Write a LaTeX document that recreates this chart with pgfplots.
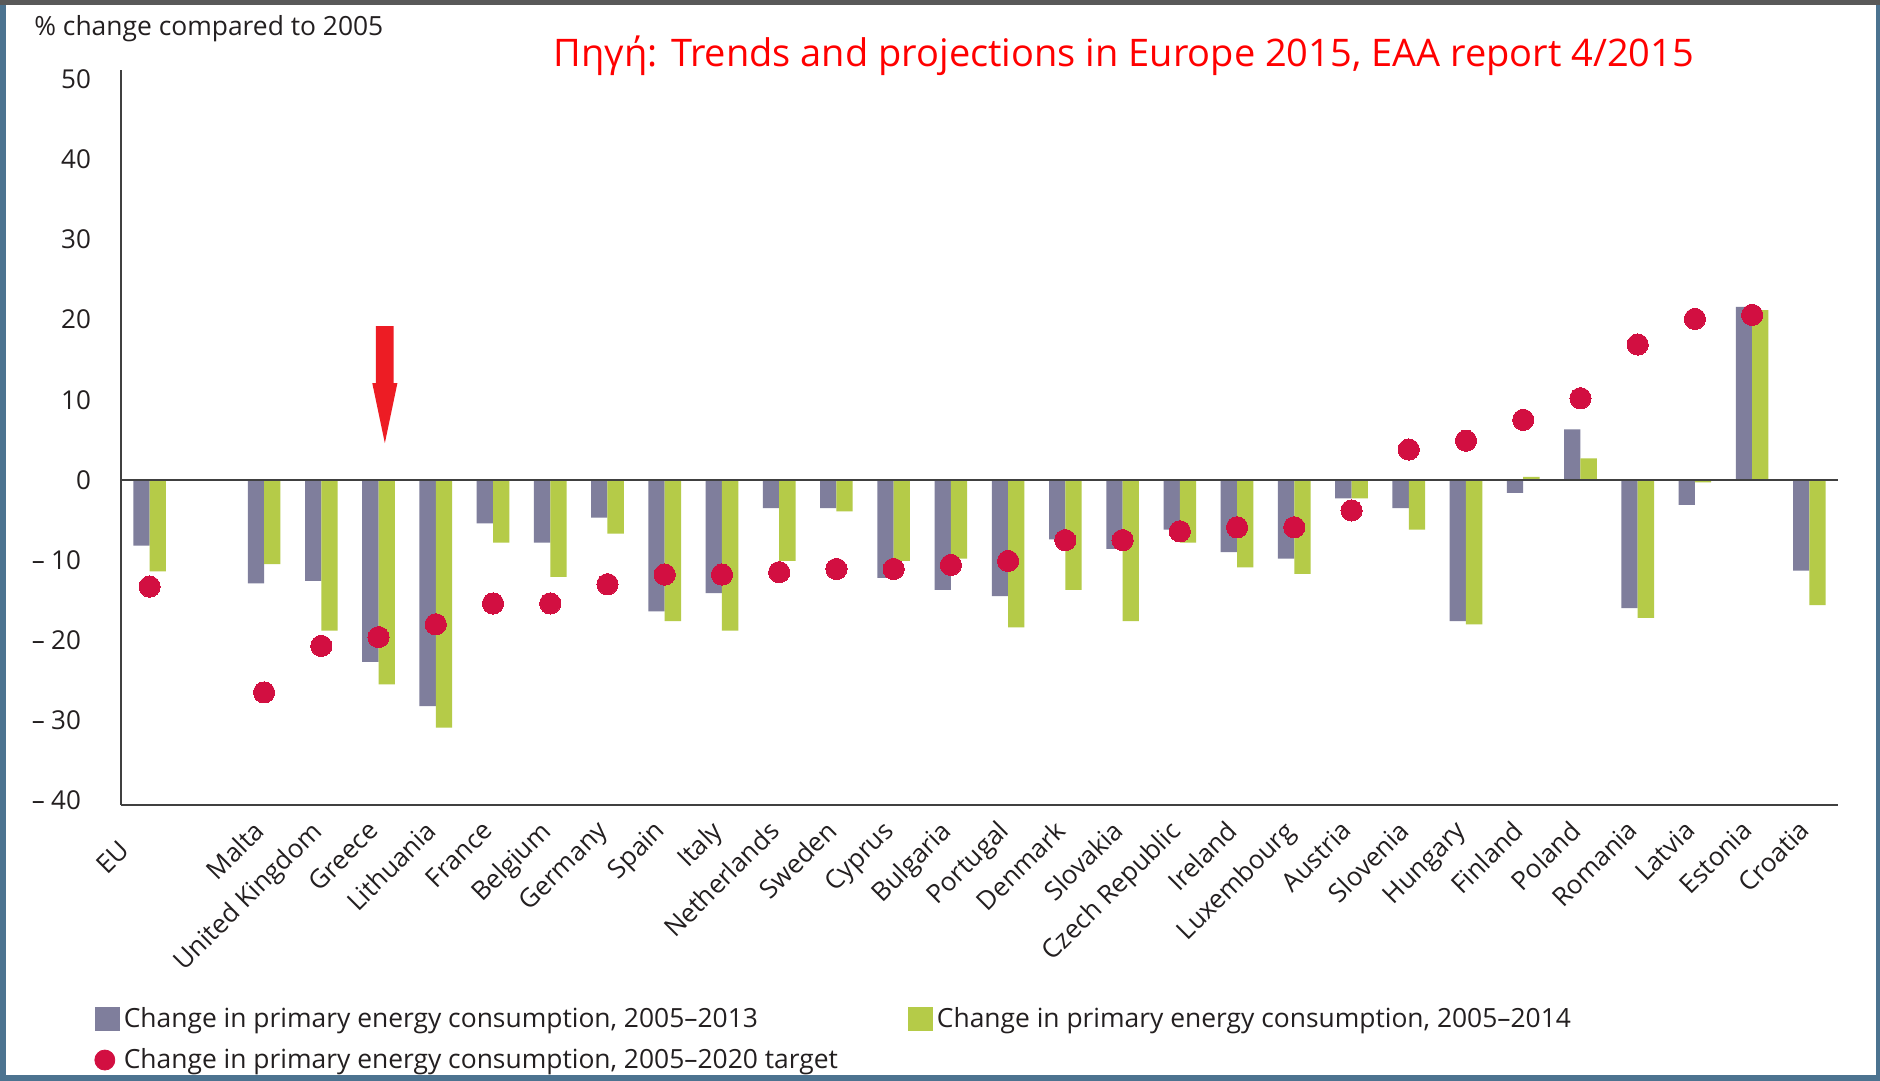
\documentclass[border=0pt]{standalone}
\usepackage{fontspec}
\setmainfont{Open Sans}
\usepackage{pgfplots}
\usepackage{pgfplotstable}
\pgfplotsset{compat=1.18}
\definecolor{barP}{HTML}{7F7E9C}
\definecolor{barG}{HTML}{B5CB48}
\definecolor{dotR}{HTML}{D20F41}
\definecolor{arrowR}{HTML}{ED1C24}
\definecolor{txt}{HTML}{231F20}
\definecolor{axisgray}{HTML}{404040}
\definecolor{frameblue}{HTML}{4C7390}
\definecolor{framegray}{HTML}{595959}

\pgfplotstableread{
x P G T
0 -8.2 -11.4 -13.3
2 -12.9 -10.5 -26.5
3 -12.6 -18.8 -20.7
4 -22.7 -25.5 -19.6
5 -28.2 -30.9 -18.0
6 -5.4 -7.8 -15.4
7 -7.8 -12.1 -15.4
8 -4.7 -6.7 -13.0
9 -16.4 -17.6 -11.8
10 -14.1 -18.8 -11.8
11 -3.5 -10.1 -11.5
12 -3.5 -3.9 -11.1
13 -12.2 -10.1 -11.1
14 -13.7 -9.8 -10.6
15 -14.5 -18.4 -10.1
16 -7.4 -13.7 -7.5
17 -8.6 -17.6 -7.5
18 -6.2 -7.8 -6.4
19 -9.0 -10.9 -5.9
20 -9.8 -11.7 -5.9
21 -2.3 -2.3 -3.8
22 -3.5 -6.2 3.8
23 -17.6 -18.0 4.9
24 -1.6 0.4 7.5
25 6.3 2.7 10.2
26 -16.0 -17.2 16.9
27 -3.1 -0.3 20.1
28 21.6 21.2 20.6
29 -11.3 -15.6 nan
}\datatable

\newcommand{\negnum}[1]{–\hspace{3.2pt}#1\hspace*{5pt}}
\begin{document}
\begin{tikzpicture}[font=\fontsize{13}{15}\selectfont]
\fill[frameblue] (0,0) rectangle (940pt,-540.5pt);
\fill[white] (3pt,-2.5pt) rectangle (938pt,-537.5pt);
\fill[framegray] (0,0) rectangle (940pt,-2.5pt);
\node[anchor=west, text=txt, inner sep=0pt, font=\fontsize{13.2}{15}\selectfont] at (17pt,-14.5pt) {\% change compared to 2005};
\node[text=red, inner sep=0pt, font=\fontsize{19}{22}\selectfont] at (562pt,-28pt) {Πηγή: Trends and projections in Europe 2015, EAA report 4/2015};
\begin{axis}[
  at={(60.5pt,-402.3pt)}, anchor=south west,
  scale only axis, width=858.5pt, height=367.5pt,
  xmin=-0.5, xmax=29.5, ymin=-40.5, ymax=51.2,
  axis x line=bottom, axis y line=left,
  axis line style={-, line width=0.9pt, draw=axisgray},
  xtick={0,2,3,4,5,6,7,8,9,10,11,12,13,14,15,16,17,18,19,20,21,22,23,24,25,26,27,28,29},
  xticklabels={EU\hspace*{14pt},Malta,United Kingdom,Greece,Lithuania,France,Belgium,Germany,Spain,Italy,Netherlands,Sweden,Cyprus,Bulgaria,Portugal,Denmark,Slovakia,Czech Republic,Ireland,Luxembourg,Austria,Slovenia,Hungary,Finland,Poland,Romania,Latvia,Estonia,Croatia},
  ytick={-40,-30,-20,-10,0,10,20,30,40,50},
  yticklabels={\negnum{40},\negnum{30},\negnum{20},\negnum{10},0,10,20,30,40,50},
  major tick length=0pt,
  tick label style={text=txt},
  xticklabel style={xshift=-6pt, yshift=-5.5pt, rotate=45, anchor=north east, inner sep=1pt},
  yticklabel style={anchor=east, xshift=-11.5pt},
  clip=false,
  legend columns=2,
  legend cell align=left,
  legend style={at={(-0.0157,-0.270)}, anchor=north west, draw=none, fill=none,
    inner sep=0pt, row sep=5pt, text=txt,
    font=\fontsize{13.2}{15}\selectfont,
    nodes={inner sep=2pt},
    /tikz/every even column/.append style={column sep=33pt}},
]
\addplot[ybar, bar width=0.285, bar shift=-0.1425, fill=barP, draw=none,
  legend image code/.code={\fill[barP] (0pt,-6.2pt) rectangle (12.5pt,6.2pt);}]
  table[x=x, y=P] {\datatable};
\addlegendentry{Change in primary energy consumption, 2005–2013}
\addplot[ybar, bar width=0.285, bar shift=0.1425, fill=barG, draw=none,
  legend image code/.code={\fill[barG] (0pt,-6.2pt) rectangle (12.5pt,6.2pt);}]
  table[x=x, y=G] {\datatable};
\addlegendentry{Change in primary energy consumption, 2005–2014}
\addplot[forget plot, axisgray, line width=0.8pt] coordinates {(-0.5,0) (29.5,0)};
\addplot[only marks, color=dotR, mark=*, mark size=5.3pt, mark options={fill=dotR, draw=dotR, line width=0pt},
  legend image code/.code={\fill[dotR] (5pt,0pt) circle (5pt);}]
  table[x=x, y=T] {\datatable};
\addlegendentry{Change in primary energy consumption, 2005–2020 target}
\fill[arrowR] (axis cs:3.955,19.2) -- (axis cs:4.265,19.2) -- (axis cs:4.265,12.1) -- (axis cs:4.33,12.1)
  -- (axis cs:4.11,4.6) -- (axis cs:3.89,12.1) -- (axis cs:3.955,12.1) -- cycle;
\end{axis}
\end{tikzpicture}
\end{document}
